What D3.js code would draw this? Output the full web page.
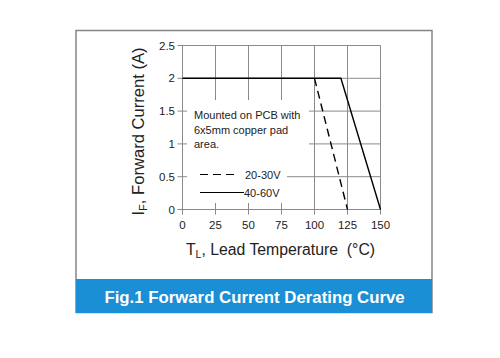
<!DOCTYPE html>
<html><head><meta charset="utf-8">
<script src="https://cdn.jsdelivr.net/npm/d3@7"></script>
<style>body{margin:0;background:#fff}svg{display:block}text{font-family:"Liberation Sans",Arial,sans-serif}</style>
</head><body><svg id="c" width="500" height="358"></svg>
<script>
const xTicks=[0,25,50,75,100,125,150];
const yTicks=[0,0.5,1,1.5,2,2.5];
const yTickLabels=["0","0.5","1","1.5","2","2.5"];
const seriesNames=["20-30V","40-60V"];
const tempDashed=[0,100,125];
const currDashed=[2,2,0];
const tempSolid=[0,120,150];
const currSolid=[2,2,0];
const noteLines=["Mounted on PCB with","6x5mm copper pad","area."];
const title="Fig.1 Forward Current Derating Curve";

const svg=d3.select("#c");
const x=d3.scaleLinear().domain([0,150]).range([182.5,380.5]);
const y=d3.scaleLinear().domain([0,2.5]).range([209.5,45.5]);

// outer frame
svg.append("rect").attr("x",76).attr("y",30.5).attr("width",356).attr("height",282)
  .attr("fill","#fff").attr("stroke","#858585").attr("stroke-width",1.5);
// title bar
svg.append("rect").attr("x",76).attr("y",279).attr("width",356).attr("height",34).attr("fill","#1a8fd6");
svg.append("text").attr("x",254.5).attr("y",302.5).attr("text-anchor","middle")
  .attr("fill","#fff").attr("font-weight","bold").attr("font-size",16.8).text(title);

// grid
const g=svg.append("g");
g.selectAll("line.v").data(xTicks).enter().append("line")
  .attr("x1",d=>x(d)).attr("x2",d=>x(d)).attr("y1",y(0)+5).attr("y2",y(2.5))
  .attr("stroke","#8a8a8a").attr("stroke-width",1);
g.selectAll("line.h").data(yTicks).enter().append("line")
  .attr("x1",x(0)-5).attr("x2",x(150)).attr("y1",d=>y(d)).attr("y2",d=>y(d))
  .attr("stroke","#8a8a8a").attr("stroke-width",1);

// white boxes for note and legend
svg.append("rect").attr("x",187).attr("y",100).attr("width",122).attr("height",57).attr("fill","#fff");
svg.append("rect").attr("x",187).attr("y",157).attr("width",100).attr("height",46).attr("fill","#fff");
// faint tick stubs inside box
g.selectAll("line.s").data([25,50,75]).enter().append("line")
  .attr("x1",d=>x(d)).attr("x2",d=>x(d)).attr("y1",y(0)).attr("y2",y(0)-6)
  .attr("stroke","#8a8a8a");

// axis tick labels
svg.append("g").selectAll("text").data(yTicks).enter().append("text")
  .attr("x",175).attr("y",d=>y(d)+4).attr("text-anchor","end").attr("font-size",11.5).attr("fill","#222")
  .text((d,i)=>yTickLabels[i]);
svg.append("g").selectAll("text").data(xTicks).enter().append("text")
  .attr("x",d=>x(d)).attr("y",229).attr("text-anchor","middle").attr("font-size",11.5).attr("fill","#222")
  .text(d=>d);

// axis titles
const xt=svg.append("text").attr("x",280.5).attr("y",255).attr("text-anchor","middle").attr("font-size",15.8).attr("fill","#222");
xt.append("tspan").text("T");
xt.append("tspan").attr("font-size",10.5).attr("dy",3).text("L");
xt.append("tspan").attr("dy",-3).text(", Lead Temperature\u00a0\u00a0(°C)");
const yt=svg.append("text").attr("transform","translate(143.5,131.5) rotate(-90)").attr("text-anchor","middle").attr("font-size",16.6).attr("fill","#222");
yt.append("tspan").text("I");
yt.append("tspan").attr("font-size",11).attr("dy",3).text("F");
yt.append("tspan").attr("dy",-3).text(", Forward Current (A)");

// note
svg.append("g").selectAll("text").data(noteLines).enter().append("text")
  .attr("x",194).attr("y",(d,i)=>119+i*14.5).attr("font-size",11).attr("fill","#222").text(d=>d);

// curves
const line=d3.line().x(d=>x(d[0])).y(d=>y(d[1]));
svg.append("path").datum(tempSolid.map((t,i)=>[t,currSolid[i]])).attr("d",line)
  .attr("fill","none").attr("stroke","#000").attr("stroke-width",1.4);
svg.append("path").datum(tempDashed.map((t,i)=>[t,currDashed[i]]).slice(1)).attr("d",line)
  .attr("fill","none").attr("stroke","#000").attr("stroke-width",1.4).attr("stroke-dasharray","8,5");

// legend
svg.append("line").attr("x1",200).attr("x2",238).attr("y1",174.5).attr("y2",174.5)
  .attr("stroke","#000").attr("stroke-width",1.2).attr("stroke-dasharray","8,5");
svg.append("line").attr("x1",200).attr("x2",244).attr("y1",192.5).attr("y2",192.5)
  .attr("stroke","#000").attr("stroke-width",1.2);
svg.append("text").attr("x",245).attr("y",178.5).attr("font-size",11).attr("fill","#222").text(seriesNames[0]);
svg.append("text").attr("x",244).attr("y",196.5).attr("font-size",11).attr("fill","#222").text(seriesNames[1]);
</script></body></html>
